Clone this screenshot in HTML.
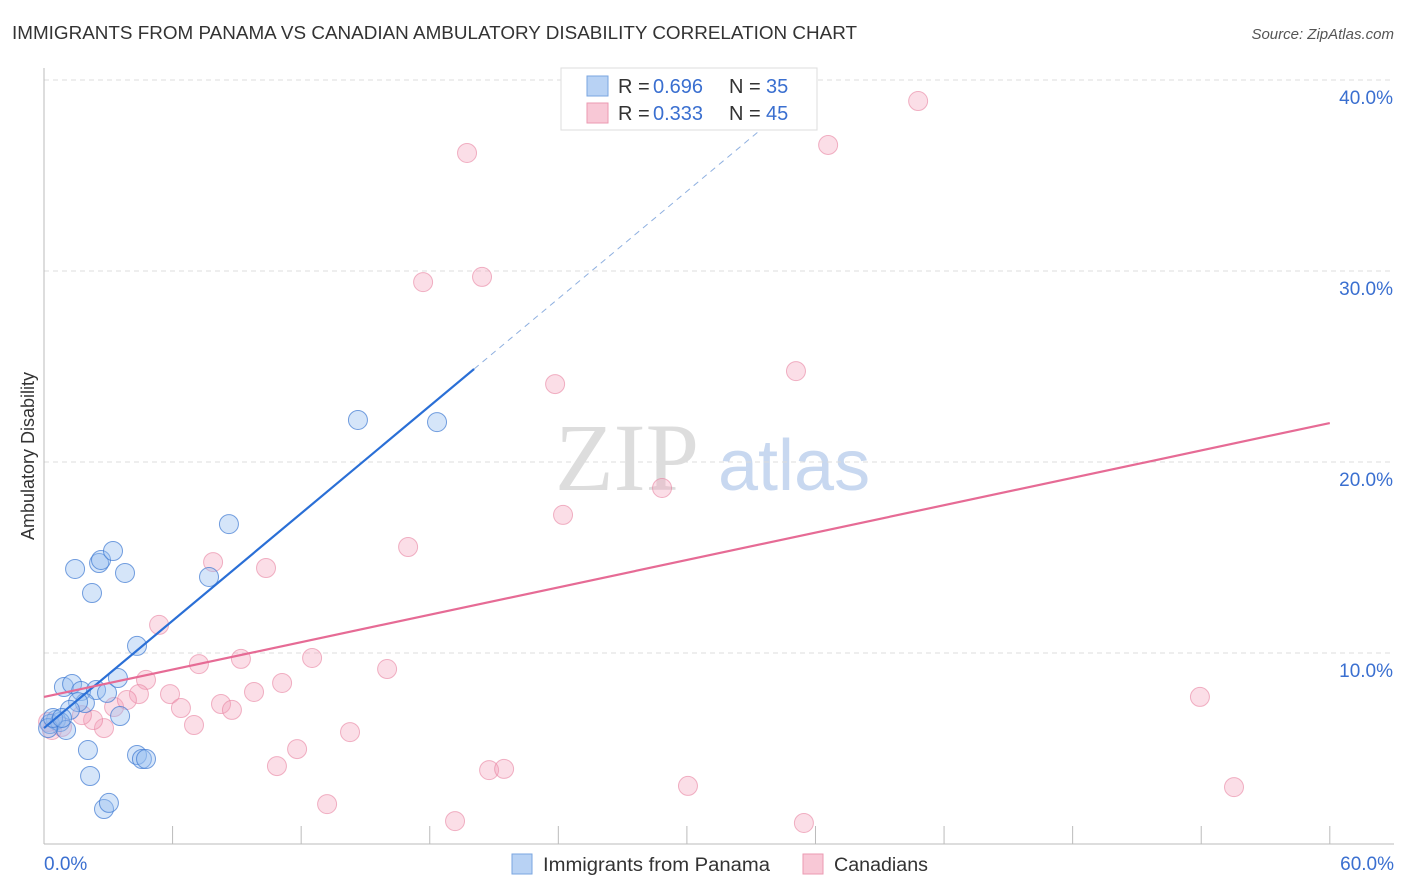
<!DOCTYPE html>
<html><head><meta charset="utf-8"><style>
body{margin:0;background:#fff;font-family:"Liberation Sans",sans-serif}
svg{display:block}
</style></head><body>
<svg id="c" width="1406" height="892">
<text x="12" y="39" font-size="18" fill="#333" textLength="845" lengthAdjust="spacingAndGlyphs">IMMIGRANTS FROM PANAMA VS CANADIAN AMBULATORY DISABILITY CORRELATION CHART</text>
<text x="1394" y="39" font-size="15" fill="#555" font-style="italic" text-anchor="end">Source: ZipAtlas.com</text>
<text x="34" y="456" font-size="18" fill="#333" text-anchor="middle" transform="rotate(-90 34 456)">Ambulatory Disability</text>
<text x="555" y="490" font-size="96" fill="#ddd" font-family="Liberation Serif,serif">ZIP</text>
<text x="718" y="490" font-size="72" fill="#c8d8f0">atlas</text>
<g id="grid"></g><g id="pts"></g><g id="lines"></g>
<g>
<rect x="561" y="68" width="256" height="62" fill="#fff" stroke="#ddd"/>
<rect x="587" y="76" width="21" height="20" fill="#b8d2f4" stroke="#7aa6e0"/>
<rect x="587" y="103" width="21" height="20" fill="#f8c8d6" stroke="#eb9ab2"/>
<text x="618" y="93" font-size="20" fill="#333">R =</text><text x="653" y="93" font-size="20" fill="#3a6fd0">0.696</text>
<text x="729" y="93" font-size="20" fill="#333">N =</text><text x="766" y="93" font-size="20" fill="#3a6fd0">35</text>
<text x="618" y="120" font-size="20" fill="#333">R =</text><text x="653" y="120" font-size="20" fill="#3a6fd0">0.333</text>
<text x="729" y="120" font-size="20" fill="#333">N =</text><text x="766" y="120" font-size="20" fill="#3a6fd0">45</text>
</g>
<g>
<rect x="512" y="854" width="20" height="20" fill="#b8d2f4" stroke="#7aa6e0"/>
<text x="543" y="871" font-size="19" fill="#333" textLength="227" lengthAdjust="spacingAndGlyphs">Immigrants from Panama</text>
<rect x="803" y="854" width="20" height="20" fill="#f8c8d6" stroke="#eb9ab2"/>
<text x="834" y="871" font-size="19" fill="#333" textLength="94" lengthAdjust="spacingAndGlyphs">Canadians</text>
</g>
</svg>
<script>
const yTicks=[10,20,30,40];
const xTickLabels=["0.0%","60.0%"];
const blueX=[1.45,2.57,2.66,3.22,3.78,2.24,4.34,8.63,7.7,14.65,18.34,0.93,1.31,1.73,2.43,2.94,1.91,1.59,1.21,3.45,3.55,0.56,0.28,0.75,1.03,2.05,2.15,4.34,4.57,4.76,2.8,3.03,0.19,0.42,0.84];
const blueY=[14.4,14.71,14.87,15.34,14.19,13.14,10.37,16.75,13.98,22.2,22.09,8.22,8.38,8.01,8.06,7.91,7.38,7.43,7.02,8.69,6.7,6.49,6.28,6.39,5.97,4.92,3.56,4.66,4.45,4.45,1.83,2.15,6.07,6.6,6.6];
const pinkX=[19.74,40.79,36.59,17.69,20.44,23.85,35.09,28.84,24.22,16.99,7.89,10.36,5.37,9.19,12.51,7.23,4.76,16.01,5.88,4.43,9.8,11.11,8.26,6.39,3.27,3.87,8.77,7.0,2.8,2.29,1.77,14.28,11.81,10.87,20.77,21.47,13.21,19.18,30.05,35.46,53.94,55.53,0.37,0.84,0.19];
const pinkY=[36.18,38.9,36.6,29.42,29.69,24.08,24.76,18.64,17.23,15.55,14.76,14.45,11.47,9.69,9.74,9.42,8.59,9.16,7.85,7.85,7.96,8.43,7.33,7.12,7.17,7.54,7.02,6.23,6.07,6.49,6.75,5.86,4.97,4.08,3.87,3.93,2.09,1.2,3.04,1.1,7.7,2.98,5.97,6.13,6.39];
const blueLine=[0,6.07,20.07,24.87,36.1];
const pinkLine=[0,7.7,60,22.04];
const X=v=>44+v*21.43, Y=v=>844-v*19.1;
const NS="http://www.w3.org/2000/svg";
function mk(p,t,a){const e=document.createElementNS(NS,t);for(const k in a)e.setAttribute(k,a[k]);p.appendChild(e);return e;}
const g=document.getElementById('grid');
for(const t of yTicks){
 const l=mk(g,'line',{x1:44,x2:1394,y1:Y(t),y2:Y(t),stroke:'#ddd','stroke-dasharray':'5,4'});
 
 
 const tx=mk(g,'text',{x:1393,y:Y(t)+24,'font-size':19,fill:'#3a6fd0','text-anchor':'end'});
 tx.textContent=t.toFixed(1)+'%';
 
 
}
const ax=mk(g,'line',{x1:44,x2:44,y1:68,y2:844,stroke:'#bbb'});


const bx=mk(g,'line',{x1:44,x2:1394,y1:844,y2:844,stroke:'#bbb'});


for(let i=0;i<=10;i++){const v=i*6;const t=mk(g,'line',{x1:X(v),x2:X(v),y1:826,y2:844,stroke:'#bbb'});
 
 }
[[0,'start',44],[60,'end',1394]].forEach((d,i)=>{const t=mk(g,'text',{x:d[2],y:870,'font-size':19,fill:'#3a6fd0','text-anchor':d[1]});t.textContent=xTickLabels[i];
 
 });
const p=document.getElementById('pts');
pinkX.forEach((x,i)=>{const c=mk(p,'circle',{cx:X(x),cy:Y(pinkY[i]),r:9.5,fill:'rgba(244,160,186,0.35)',stroke:'rgba(232,130,160,0.6)','stroke-width':1});
 
 });
blueX.forEach((x,i)=>{const c=mk(p,'circle',{cx:X(x),cy:Y(blueY[i]),r:9.5,fill:'rgba(150,190,240,0.4)',stroke:'rgba(60,120,210,0.7)','stroke-width':1});
 
 });
const L=document.getElementById('lines');
const sl=(blueLine[3]-blueLine[1])/(blueLine[2]-blueLine[0]);
const b1=mk(L,'line',{x1:X(blueLine[0]),y1:Y(blueLine[1]),x2:X(blueLine[2]),y2:Y(blueLine[3]),stroke:'#2a6fd6','stroke-width':2.2});


const b2=mk(L,'line',{x1:X(blueLine[2]),y1:Y(blueLine[3]),x2:X(blueLine[4]),y2:Y(blueLine[1]+sl*blueLine[4]),stroke:'#8fb0e0','stroke-width':1,'stroke-dasharray':'6,5'});


const pl=mk(L,'line',{x1:X(pinkLine[0]),y1:Y(pinkLine[1]),x2:X(pinkLine[2]),y2:Y(pinkLine[3]),stroke:'#e66b95','stroke-width':2.2});


</script>
</body></html>
